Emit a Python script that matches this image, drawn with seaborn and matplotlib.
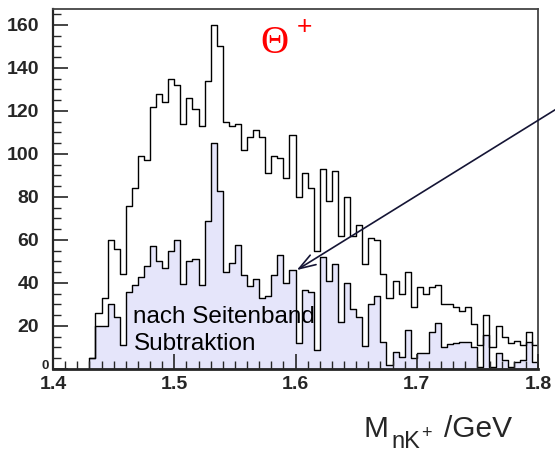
import numpy as np
import pandas as pd
import matplotlib
matplotlib.use("Agg")
import matplotlib.pyplot as plt
import seaborn as sns
from matplotlib.ticker import MultipleLocator, FormatStrFormatter

# nK+ invariant mass, 5 MeV bins starting at 1.430 GeV
bin_width = 0.005
first_edge = 1.430

# all candidates
all_events = [
    5, 26, 33, 60, 56, 44, 76, 84, 99, 97,
    122, 128, 124, 135, 132, 114, 126, 121, 113, 134,
    160, 150, 115, 113, 114, 102, 108, 111, 108, 91,
    99, 98, 89, 109, 80, 91, 84, 55, 93, 78,
    92, 62, 80, 62, 67, 49, 61, 60, 44, 33,
    41, 35, 45, 29, 38, 35, 38, 39, 30, 30,
    29, 27, 29, 21, 11, 25, 10, 20, 15, 12,
    13, 11, 17, 11,
]

# after side-band subtraction
after_subtraction = [
    5, 20, 20, 30, 24, 11, 36, 39, 43, 48,
    57, 50, 47, 55, 60, 39.5, 50, 51, 39, 69,
    105, 83, 45, 49.5, 57.5, 43.5, 38.5, 42, 33, 34,
    43.5, 53, 40, 46, 12, 36.7, 35.8, 8.7, 52, 41,
    49, 22, 40, 28, 24.3, 10.8, 30, 34, 12.7, 1.9,
    8.1, 5.5, 18, 5, 7.5, 7.5, 17, 21.5, 10.4, 11.5,
    12, 12.7, 12.7, 10.4, 1, 15.8, 1, 7.3, 4, 1,
    3.4, 4, 12.7, 3.4,
]

n_bins = len(all_events)
edges = np.round(first_edge + bin_width * np.arange(n_bins + 1), 4)
centers = np.round(0.5 * (edges[:-1] + edges[1:]), 5)

df = pd.DataFrame({
    "mass": centers,
    "all": all_events,
    "sub": after_subtraction,
})

sns.set_style("ticks")
plt.rcParams["font.family"] = ["Liberation Sans", "DejaVu Sans"]

W, H = 555, 454
fig = plt.figure(figsize=(W / 100, H / 100), dpi=100)
ax = fig.add_axes([53 / W, 85 / H, 485 / W, 360 / H])

sns.histplot(data=df, x="mass", weights="all", bins=edges.tolist(),
             element="step", fill=False, color="black", linewidth=1.0, ax=ax)
sns.histplot(data=df, x="mass", weights="sub", bins=edges.tolist(),
             element="step", fill=True, facecolor="#e5e5fa",
             edgecolor="black", alpha=1, linewidth=1.0, ax=ax)

ax.set_xlim(1.4, 1.8)
ax.set_ylim(0, 167.4)
ax.set_xlabel("")
ax.set_ylabel("")
ax.set_axisbelow(False)

ax.xaxis.set_major_locator(MultipleLocator(0.1))
ax.xaxis.set_minor_locator(MultipleLocator(0.01))
ax.yaxis.set_major_locator(MultipleLocator(20))
ax.yaxis.set_minor_locator(MultipleLocator(5))
ax.xaxis.set_major_formatter(FormatStrFormatter("%.1f"))
ax.yaxis.set_major_formatter(FormatStrFormatter("%d"))

ax.tick_params(axis="both", which="major", direction="in", length=11,
               width=1.2, labelsize=14, top=False, right=False)
ax.tick_params(axis="both", which="minor", direction="in", length=6,
               width=1.0, top=False, right=False)
ax.tick_params(axis="y", which="major", pad=10)
ax.tick_params(axis="x", which="major", pad=5)
for lab in ax.get_xticklabels() + ax.get_yticklabels():
    lab.set_fontweight("bold")

for side in ["top", "right"]:
    ax.spines[side].set_visible(True)
    ax.spines[side].set_linewidth(1.3)
    ax.spines[side].set_color("#444444")
ax.spines["bottom"].set_linewidth(2.0)
ax.spines["left"].set_linewidth(1.6)

# particle label
ax.text(1.5827, 151.4, "\u0398", color="red", fontsize=28,
        family=["Liberation Serif", "DejaVu Serif"], ha="center", va="center")
ax.text(1.607, 159, "+", color="red", fontsize=19, ha="center", va="center")

ax.text(1.4662, 21.3, "nach Seitenband", fontsize=17.5, va="baseline",
        ha="left", color="black")
ax.text(1.4670, 8.8, "Subtraktion", fontsize=17.5, va="baseline",
        ha="left", color="black")

ax.annotate("", xy=(1.601, 46), xytext=(1.818, 121.9),
            arrowprops=dict(arrowstyle="->,head_length=0.6,head_width=0.2",
                            color="#151535", lw=1.2, shrinkA=0, shrinkB=0,
                            mutation_scale=20),
            annotation_clip=False)


# axis title
def px_text(x, y, s, size, **kw):
    fig.text(x / W, 1 - y / H, s, fontsize=size, va="baseline", ha="left", **kw)


px_text(364, 437, "M", 21.5)
px_text(391, 448, "nK", 17)
px_text(421, 438, "+", 13)
px_text(444, 437, "/GeV", 21.5)

# the zero label at the origin is drawn smaller, close to the axis
fig.canvas.draw()
for tick in ax.yaxis.get_major_ticks():
    if tick.label1.get_text() == "0":
        tick.label1.set_fontsize(9.5)
        tick.label1.set_x(10 / 485)
        tick.label1.set_verticalalignment("baseline")

fig.savefig("out.png", dpi=100)
